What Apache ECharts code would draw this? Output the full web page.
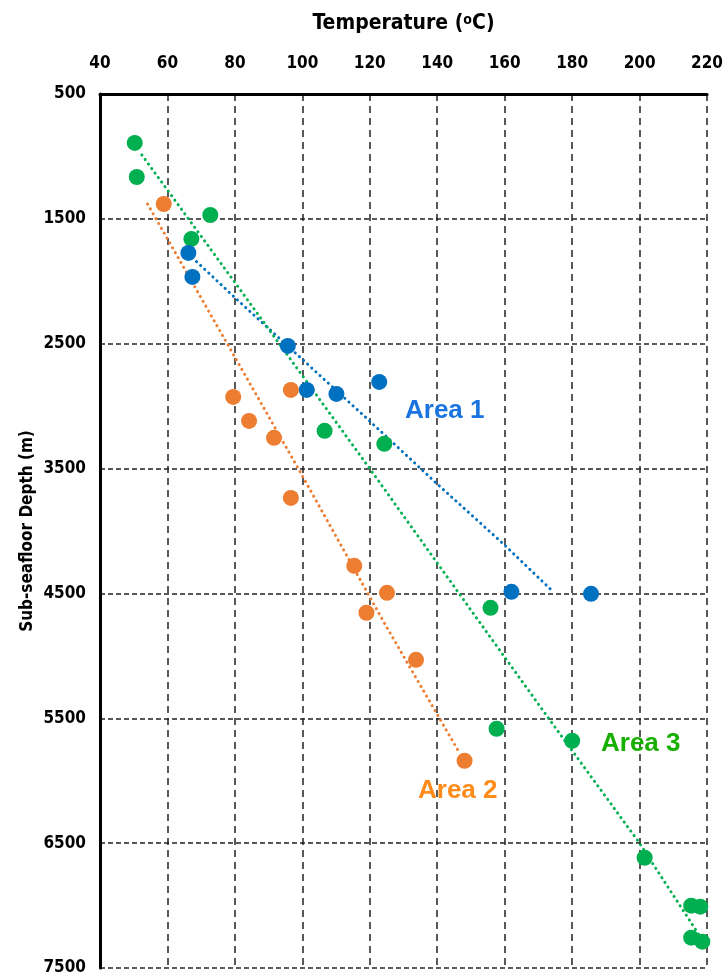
<!DOCTYPE html>
<html><head><meta charset="utf-8">
<script src="https://cdn.jsdelivr.net/npm/echarts@6/dist/echarts.min.js"></script>
<style>html,body{margin:0;padding:0;background:#fff}#c{width:726px;height:978px}</style>
</head><body><div id="c"></div>
<script>
// Measured points: [temperature °C, depth m]
var area1Points = [[66.2,1773],[67.4,1965],[95.7,2518],[101.3,2870],[110.1,2902],[122.8,2806],[162,4487],[185.6,4503]];
var area2Points = [[58.9,1381],[96.6,2870],[79.5,2926],[84.2,3118],[91.6,3254],[96.6,3735],[115.4,4279],[125.1,4495],[119,4655],[133.7,5032],[148.1,5840]];
var area3Points = [[50.3,892],[50.9,1165],[72.7,1469],[67.1,1661],[106.6,3198],[124.3,3302],[155.8,4615],[157.6,5584],[180,5680],[201.5,6617],[215.3,7001],[218,7009],[215.3,7257],[218.6,7289]];
// Trend lines
var area1Trend = [[66.2,1781],[80.4,2141],[119.6,3110],[139.6,3614],[159.9,4111],[174.1,4479]];
var area2Trend = [[54.1,1381],[83.0,2750],[99.5,3534],[124.6,4751],[146.4,5768]];
var area3Trend = [[52.4,988],[80.1,2013],[119.6,3486],[153.1,4751],[172.9,5496],[199.7,6489],[219.5,7313]];
var xTicks = [40,60,80,100,120,140,160,180,200,220];
var yTicks = [500,1500,2500,3500,4500,5500,6500,7500];
var areaLabels = ['Area 1','Area 2','Area 3'];

var FONT = '"DejaVu Sans Condensed", "Liberation Sans Narrow", "Liberation Sans", Arial, sans-serif';
var BLUE = '#0070c0', ORANGE = '#ed7d31', GREEN = '#00b050';
var chart = echarts.init(document.getElementById('c'));

function trend(data, color) {
  return {type:'line', data:data, showSymbol:false, symbol:'none', z:2, silent:true,
    lineStyle:{color:color, width:3, type:[0.1,5.5], cap:'round'}};
}
function pts(data, color) {
  return {type:'scatter', data:data, symbolSize:16, z:5, itemStyle:{color:color, opacity:1}};
}

chart.setOption({
  animation:false,
  grid:{left:100, top:94, right:15, bottom:10, containLabel:false},
  xAxis:{type:'value', position:'top', min:xTicks[0], max:xTicks[xTicks.length-1], interval:20,
    name:'{a|Temperature (}{s|o}{a|C)}', nameLocation:'middle', nameGap:59, nameMoveOverlap:false,
    nameTextStyle:{rich:{
      a:{fontFamily:FONT, fontWeight:'bold', fontSize:21, color:'#000'},
      s:{fontFamily:FONT, fontWeight:'bold', fontSize:14, color:'#000', verticalAlign:'top', padding:[0,0,8,0]}
    }},
    axisLine:{show:true, onZero:false, lineStyle:{color:'#000', width:3}},
    axisTick:{show:false},
    axisLabel:{fontFamily:FONT, fontWeight:'bold', fontSize:17, color:'#000', margin:22},
    splitLine:{show:true, lineStyle:{color:'#222', width:1.5, type:[7,5]}}
  },
  yAxis:{type:'value', inverse:true, min:yTicks[0], max:yTicks[yTicks.length-1], interval:1000,
    name:'Sub-seafloor Depth (m)', nameLocation:'middle', nameGap:64, nameRotate:90, nameMoveOverlap:false,
    nameTextStyle:{fontFamily:FONT, fontWeight:'bold', fontSize:17, color:'#000'},
    axisLine:{show:true, onZero:false, lineStyle:{color:'#000', width:3}},
    axisTick:{show:false},
    axisLabel:{fontFamily:FONT, fontWeight:'bold', fontSize:17, color:'#000', margin:14,
      formatter:function(v){return String(v);}},
    splitLine:{show:true, lineStyle:{color:'#222', width:1.5, type:[5,3]}}
  },
  series:[
    trend(area1Trend, BLUE), trend(area2Trend, ORANGE), trend(area3Trend, GREEN),
    pts(area3Points, GREEN), pts(area2Points, ORANGE), pts(area1Points, BLUE)
  ],
  graphic:[
    {type:'text', left:405, top:398, z:10, style:{text:areaLabels[0], fill:'#1a75e0', font:'bold 26px "Liberation Sans", Arial, sans-serif'}},
    {type:'text', left:418, top:778, z:10, style:{text:areaLabels[1], fill:'#ff8c1a', font:'bold 26px "Liberation Sans", Arial, sans-serif'}},
    {type:'text', left:601, top:731, z:10, style:{text:areaLabels[2], fill:'#17b000', font:'bold 26px "Liberation Sans", Arial, sans-serif'}}
  ]
});
</script></body></html>
